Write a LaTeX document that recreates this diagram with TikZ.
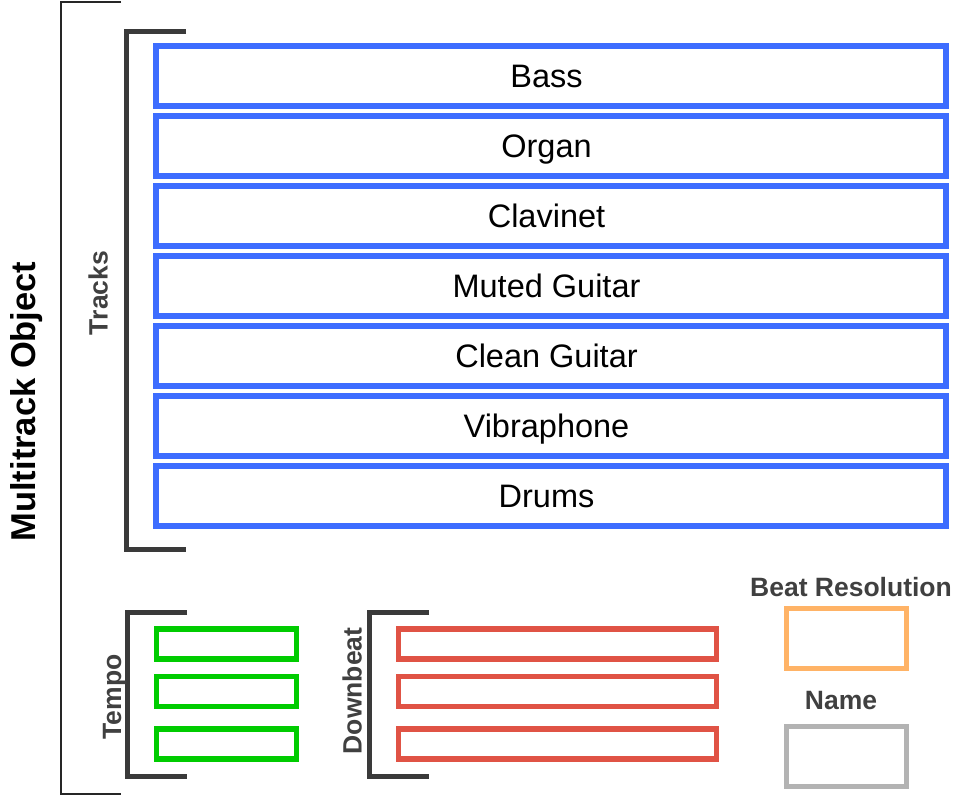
\documentclass[tikz,border=0pt]{standalone}
\usepackage{fontspec}
\setmainfont{Liberation Sans}
\usepackage{tikz}
\usetikzlibrary{positioning}
\definecolor{trackblue}{RGB}{61,109,255}
\definecolor{tempogreen}{RGB}{0,204,0}
\definecolor{beatred}{RGB}{224,83,69}
\definecolor{resorange}{RGB}{255,179,102}
\definecolor{namegray}{RGB}{179,179,179}
\definecolor{bracketgray}{RGB}{58,58,58}
\definecolor{labelgray}{RGB}{64,64,64}

\begin{document}
\begin{tikzpicture}[x=1pt, y=-1pt,
    trackbox/.style={draw=trackblue, line width=6pt, minimum width=790pt, minimum height=60pt,
      inner sep=0pt, outer sep=0pt, font=\fontsize{32.5}{38}\selectfont, text height=23.3pt, text depth=0pt},
    smallbox/.style={line width=5.3pt, minimum height=30pt, inner sep=0pt, outer sep=0pt},
    squarebox/.style={line width=5pt, minimum width=120pt, minimum height=60pt, inner sep=0pt, outer sep=0pt},
    sidelabel/.style={text=labelgray, font=\fontsize{26.5}{31}\selectfont\bfseries,
      inner sep=0pt, text height=19pt, text depth=0pt},
    bracket/.style={draw=bracketgray, line width=5pt}]
  \useasboundingbox (0,0) rectangle (957,795);
  % Outer bracket and title
  \draw[line width=2pt, black!85] (121,1.5) -- (61,1.5) -- (61,793.5) -- (121,793.5);
  \node[font=\fontsize{34.5}{40}\selectfont\bfseries, rotate=90, inner sep=0pt,
    text height=24.7pt, text depth=0pt] (multilabel) at (23,401.5) {Multitrack Object};
  % Tracks
  \draw[bracket] (186,31.5) -- (126.3,31.5) -- (126.3,549) -- (186,549);
  \node[sidelabel, rotate=90] (trackslabel) at (98,293) {Tracks};
  \foreach \name [count=\i from 0] in {Bass,Organ,Clavinet,Muted Guitar,Clean Guitar,Vibraphone,Drums}
    \node[trackbox] (track\i) at (551,{76+70*\i}) {\hspace*{-9pt}\name};
  % Tempo and downbeat
  \draw[bracket] (187,612) -- (127,612) -- (127,776) -- (187,776);
  \draw[bracket] (429,612) -- (369,612) -- (369,776) -- (429,776);
  \node[sidelabel, rotate=90] (tempolabel) at (111.5,697) {Tempo};
  \node[sidelabel, rotate=90] (downbeatlabel) at (352,691) {Downbeat};
  \foreach \y [count=\i] in {644,691.5,744} {
    \node[smallbox, draw=tempogreen, minimum width=140pt] (tempo\i) at (226.5,\y) {};
    \node[smallbox, draw=beatred, minimum width=318pt] (beat\i) at (557.5,\y) {};
  }
  % Beat resolution and name
  \node[squarebox, draw=resorange] (resbox) at (846.5,638.5) {};
  \node[sidelabel] (reslabel) at (851,587) {Beat Resolution};
  \node[squarebox, draw=namegray] (namebox) at (846.5,756.5) {};
  \node[sidelabel] (namelabel) at (841,700) {Name};
\end{tikzpicture}
\end{document}
